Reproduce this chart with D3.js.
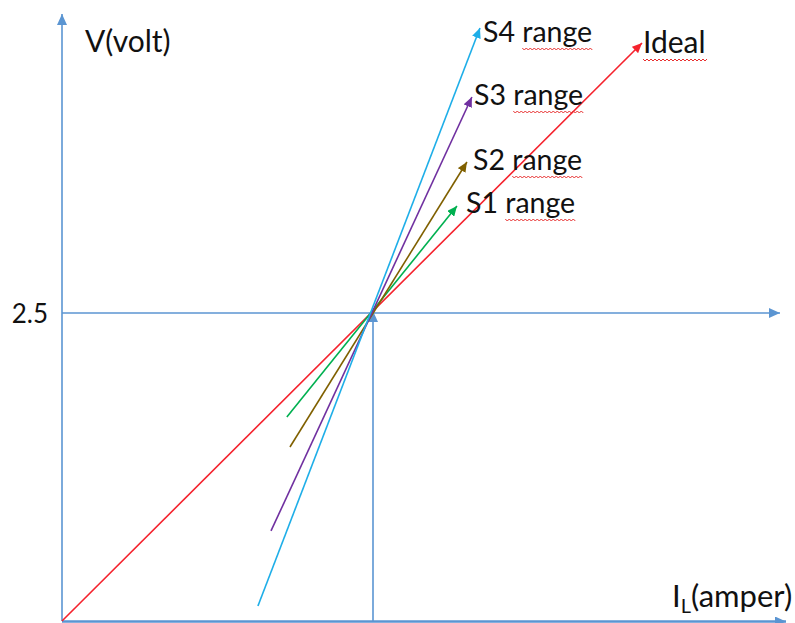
<!DOCTYPE html>
<html>
<head>
<meta charset="utf-8">
<script src="https://cdn.jsdelivr.net/npm/d3@7"></script>
<style>
  html, body { margin: 0; padding: 0; background: #fff; }
  svg { display: block; }
  text { font-family: Lato, "Open Sans", sans-serif; fill: #111; }
</style>
</head>
<body>
<svg id="chart" width="795" height="623"></svg>
<script>
// Load-line sketch: V against I_L, every range line passing through (1, 2.5)
const seriesNames  = ["Ideal", "S1 range", "S2 range", "S3 range", "S4 range"];
const seriesColors = ["#f5222d", "#00b050", "#806000", "#7030a0", "#1eaee8"];
// start and end points of each line, current in relative units, voltage in volt
const iStart = [0.000, 0.723, 0.733, 0.672, 0.630];
const vStart = [0.000, 1.656, 1.412, 0.731, 0.122];
const iEnd   = [1.865, 1.270, 1.302, 1.318, 1.344];
const vEnd   = [4.692, 3.368, 3.726, 4.253, 4.813];
const midCurrent = 1;
const yTickValues = [2.5];
const yTickLabels = ["2.5"];

const svg = d3.select("#chart");
const axisColor = "#5b95d2";

const x = d3.scaleLinear().domain([0, 2]).range([62, 684]);
const y = d3.scaleLinear().domain([0, 5]).range([621, 5]);

// arrowhead markers
const defs = svg.append("defs");
function marker(id, color, w, h) {
  defs.append("marker")
    .attr("id", id)
    .attr("viewBox", `0 0 ${w} ${h}`)
    .attr("refX", w).attr("refY", h / 2)
    .attr("markerWidth", w).attr("markerHeight", h)
    .attr("markerUnits", "userSpaceOnUse")
    .attr("orient", "auto")
    .append("path")
    .attr("d", `M0,0L${w},${h / 2}L0,${h}Z`)
    .attr("fill", color);
}
marker("ax", axisColor, 11, 10);
seriesNames.forEach((n, i) => marker("m" + i, seriesColors[i], 10, 9));

const g = svg.append("g");

// axes and guide lines
g.append("line")
  .attr("x1", x(0)).attr("y1", y(0)).attr("x2", x(0)).attr("y2", 14)
  .attr("stroke", axisColor).attr("stroke-width", 1.6).attr("marker-end", "url(#ax)");
g.append("line")
  .attr("x1", x(0)).attr("y1", y(0) + 0.5).attr("x2", 786).attr("y2", y(0) + 0.5)
  .attr("stroke", axisColor).attr("stroke-width", 2.4).attr("marker-end", "url(#ax)");
g.append("line")
  .attr("x1", x(0)).attr("y1", y(2.5)).attr("x2", 780).attr("y2", y(2.5))
  .attr("stroke", axisColor).attr("stroke-width", 1.4).attr("marker-end", "url(#ax)");
g.append("line")
  .attr("x1", x(midCurrent)).attr("y1", y(0)).attr("x2", x(midCurrent)).attr("y2", y(2.5) - 2)
  .attr("stroke", axisColor).attr("stroke-width", 1.6).attr("marker-end", "url(#ax)");

// y tick label
const yAxis = d3.axisLeft(y).tickValues(yTickValues).tickFormat((d, i) => yTickLabels[i])
  .tickSize(0).tickPadding(14);
const ya = g.append("g").attr("transform", `translate(${x(0)},0)`).call(yAxis);
ya.select(".domain").remove();
ya.selectAll("text").attr("font-size", 26).attr("dy", "0.35em")
  .style("font-family", "Lato, sans-serif").attr("fill", "#111");

// series lines
seriesNames.forEach((n, i) => {
  g.append("line")
    .attr("x1", x(iStart[i])).attr("y1", y(vStart[i]))
    .attr("x2", x(iEnd[i])).attr("y2", y(vEnd[i]))
    .attr("stroke", seriesColors[i]).attr("stroke-width", 1.6)
    .attr("marker-end", `url(#m${i})`);
});

// series labels with spell-check style squiggles
const labelPos = [[643, 53], [466, 213], [473, 170], [474, 105], [483, 42]];
const labelSize = [30, 28.5, 28.5, 28.5, 28.5];
function squiggle(x0, x1, yy) {
  let d = `M${x0},${yy}`;
  for (let px = x0, k = 0; px < x1; px += 2, k++) d += `L${px + 2},${yy + (k % 2 ? 0 : 2)}`;
  return d;
}
seriesNames.forEach((n, i) => {
  const t = g.append("text")
    .attr("x", labelPos[i][0]).attr("y", labelPos[i][1])
    .attr("font-size", labelSize[i]);
  const parts = n.split(" ");
  if (parts.length === 2) {
    t.append("tspan").text(parts[0] + " ");
    t.append("tspan").text(parts[1]);
  } else {
    t.append("tspan").text(parts[0]);
  }
  const node = t.node();
  const full = node.getComputedTextLength();
  const wordLen = parts[parts.length - 1].length;
  const startCh = n.length - wordLen;
  const x0 = labelPos[i][0] + (startCh > 0 ? node.getSubStringLength(0, startCh) : 0);
  const x1 = labelPos[i][0] + full;
  g.append("path").attr("d", squiggle(x0, x1, labelPos[i][1] + 6))
    .attr("fill", "none").attr("stroke", "#e83030").attr("stroke-width", 1);
});

// axis titles
g.append("text").attr("x", 85).attr("y", 52).attr("font-size", 30).text("V(volt)");
const xt = g.append("text").attr("x", 672).attr("y", 607).attr("font-size", 31);
xt.append("tspan").text("I");
xt.append("tspan").attr("font-size", 20).attr("dy", 6).text("L");
xt.append("tspan").attr("dy", -6).text("(amper)");
</script>
</body>
</html>
